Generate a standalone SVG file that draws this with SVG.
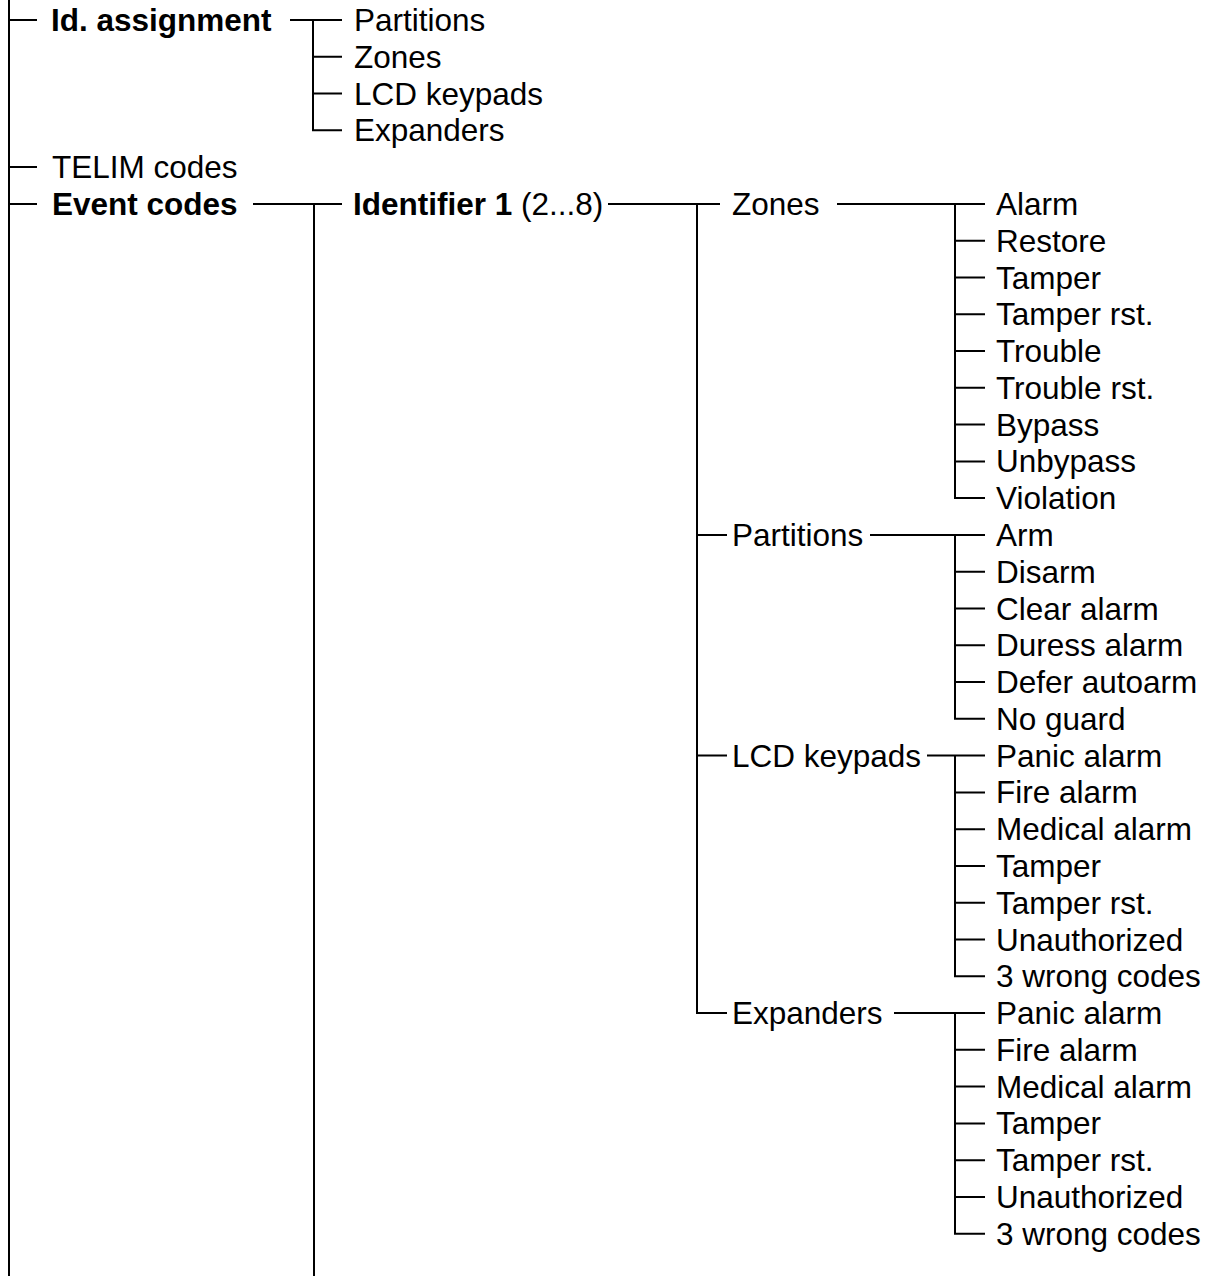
<svg xmlns="http://www.w3.org/2000/svg" width="1209" height="1276" viewBox="0 0 1209 1276">
  <style>
    .t { font-family: "Liberation Sans", Arial, sans-serif; font-size: 31.5px; fill: #000; }
    .b { font-weight: bold; }
    .ln { fill: none; stroke: #000; stroke-width: 2; }
  </style>
  <rect width="1209" height="1276" fill="#fff"/>

  <!-- tree connectors -->
  <g id="connectors" class="ln">
    <!-- main trunk -->
    <path d="M9 0V1276M9 20H37M9 167.1H37M9 203.9H37"/>
    <!-- Id. assignment branch -->
    <path d="M290 20H342M313 20V130.3H342M313 56.8H342M313 93.6H342"/>
    <!-- Event codes branch -->
    <path d="M253 203.9H342M314 203.9V1276"/>
    <!-- Identifier branch -->
    <path d="M608 203.9H720M697 203.9V1013.1H727M697 534.9H727M697 755.6H727"/>
    <!-- Zones events -->
    <path d="M837 203.9H985M955 203.9V498.1H985M955 240.7H985M955 277.5H985M955 314.2H985M955 351H985M955 387.8H985M955 424.6H985M955 461.4H985"/>
    <!-- Partitions events -->
    <path d="M870 534.9H985M955 534.9V718.8H985M955 571.7H985M955 608.5H985M955 645.3H985M955 682H985"/>
    <!-- LCD keypads events -->
    <path d="M927 755.6H985M955 755.6V976.3H985M955 792.4H985M955 829.2H985M955 865.9H985M955 902.7H985M955 939.5H985"/>
    <!-- Expanders events -->
    <path d="M894 1013.1H985M955 1013.1V1233.7H985M955 1049.8H985M955 1086.6H985M955 1123.4H985M955 1160.2H985M955 1197H985"/>
  </g>

  <g id="id-assignment">
    <text class="t b" x="51" y="31">Id. assignment</text>
  </g>
  <g id="id-assignment-items">
    <text class="t" x="354" y="31">Partitions</text>
    <text class="t" x="354" y="67.8">Zones</text>
    <text class="t" x="354" y="104.6">LCD keypads</text>
    <text class="t" x="354" y="141.3">Expanders</text>
  </g>
  <g id="telim-codes">
    <text class="t" x="52" y="178.1">TELIM codes</text>
  </g>
  <g id="event-codes">
    <text class="t b" x="52" y="214.9">Event codes</text>
  </g>
  <g id="identifier">
    <text class="t" x="353" y="214.9"><tspan class="b">Identifier 1</tspan> (2...8)</text>
  </g>

  <g id="zones">
    <text class="t" x="732" y="214.9">Zones</text>
  </g>
  <g id="zones-events">
    <text class="t" x="996" y="214.9">Alarm</text>
    <text class="t" x="996" y="251.7">Restore</text>
    <text class="t" x="996" y="288.5">Tamper</text>
    <text class="t" x="996" y="325.2">Tamper rst.</text>
    <text class="t" x="996" y="362">Trouble</text>
    <text class="t" x="996" y="398.8">Trouble rst.</text>
    <text class="t" x="996" y="435.6">Bypass</text>
    <text class="t" x="996" y="472.4">Unbypass</text>
    <text class="t" x="996" y="509.1">Violation</text>
  </g>

  <g id="partitions">
    <text class="t" x="732" y="545.9">Partitions</text>
  </g>
  <g id="partitions-events">
    <text class="t" x="996" y="545.9">Arm</text>
    <text class="t" x="996" y="582.7">Disarm</text>
    <text class="t" x="996" y="619.5">Clear alarm</text>
    <text class="t" x="996" y="656.3">Duress alarm</text>
    <text class="t" x="996" y="693">Defer autoarm</text>
    <text class="t" x="996" y="729.8">No guard</text>
  </g>

  <g id="lcd-keypads">
    <text class="t" x="732" y="766.6">LCD keypads</text>
  </g>
  <g id="lcd-keypads-events">
    <text class="t" x="996" y="766.6">Panic alarm</text>
    <text class="t" x="996" y="803.4">Fire alarm</text>
    <text class="t" x="996" y="840.2">Medical alarm</text>
    <text class="t" x="996" y="876.9">Tamper</text>
    <text class="t" x="996" y="913.7">Tamper rst.</text>
    <text class="t" x="996" y="950.5">Unauthorized</text>
    <text class="t" x="996" y="987.3">3 wrong codes</text>
  </g>

  <g id="expanders">
    <text class="t" x="732" y="1024.1">Expanders</text>
  </g>
  <g id="expanders-events">
    <text class="t" x="996" y="1024.1">Panic alarm</text>
    <text class="t" x="996" y="1060.8">Fire alarm</text>
    <text class="t" x="996" y="1097.6">Medical alarm</text>
    <text class="t" x="996" y="1134.4">Tamper</text>
    <text class="t" x="996" y="1171.2">Tamper rst.</text>
    <text class="t" x="996" y="1208">Unauthorized</text>
    <text class="t" x="996" y="1244.7">3 wrong codes</text>
  </g>
</svg>
